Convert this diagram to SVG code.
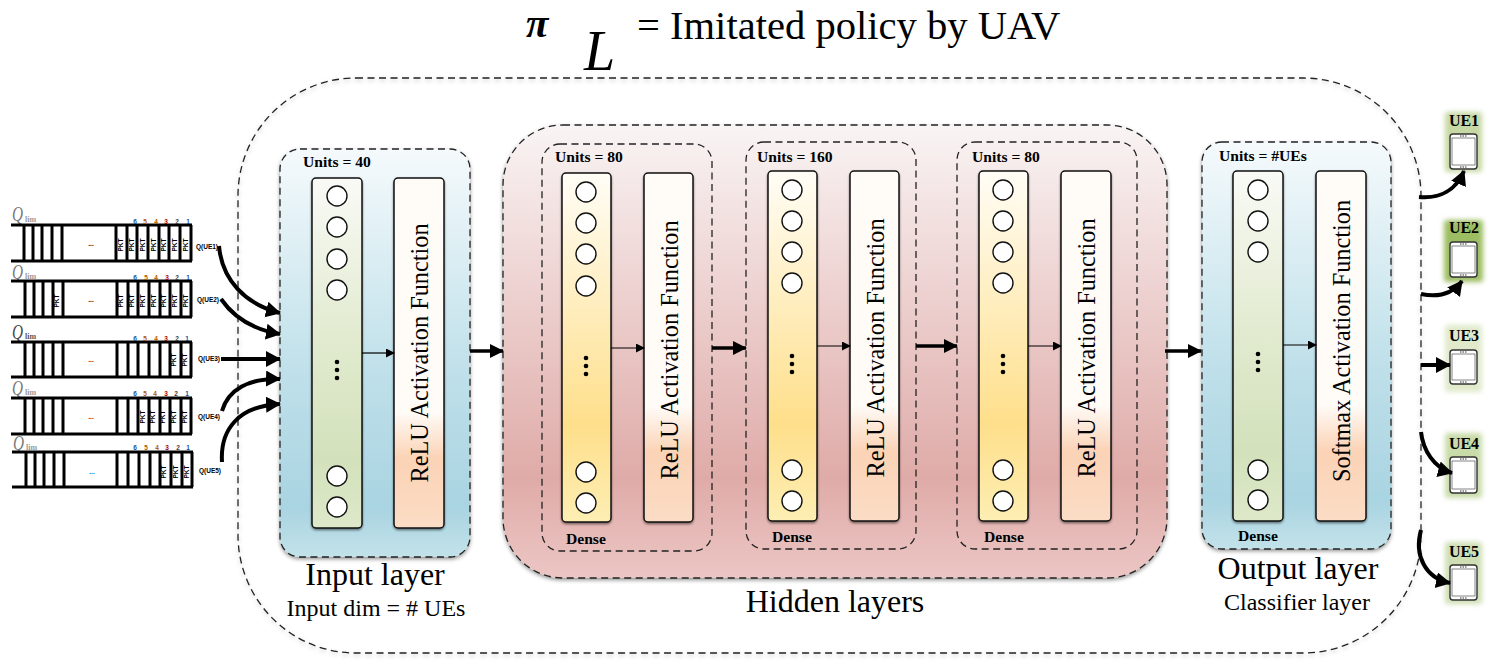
<svg xmlns="http://www.w3.org/2000/svg" width="1509" height="668" viewBox="0 0 1509 668">
<style>
text{font-family:"Liberation Serif","Times New Roman",serif;fill:#000}
.dash{stroke:#222;stroke-width:1.3;stroke-dasharray:7 4.5}
.panel{filter:url(#sh)}
.col,.act{stroke:#111;stroke-width:1.5;filter:url(#shs)}
.c{fill:#fff;stroke:#111;stroke-width:1.4}
.d{fill:#000}
.t{font-size:24.3px;text-anchor:middle}
.u{font-size:15.6px;font-weight:bold}
.big{font-size:32px;text-anchor:middle}
.sub{font-size:24px;text-anchor:middle}
.q{fill:none;stroke:#000;stroke-width:3}
.qs{font-family:"Liberation Sans",Arial,sans-serif;font-size:6.5px;font-weight:bold;text-anchor:middle}
.Q{font-size:21px;font-style:italic;fill:#777}
.lim{font-size:8px;font-weight:bold;fill:#999}
.thin{fill:none;stroke:#000;stroke-width:1.2}
.med{fill:none;stroke:#000;stroke-width:3.5}
.thick{fill:none;stroke:#000;stroke-width:4}
.ue{font-size:16px;font-weight:bold;text-anchor:middle}
.ph{fill:#fff;stroke:#333;stroke-width:1.4}
.sc{fill:#fff;stroke:#666;stroke-width:.8}
.sp{fill:none;stroke:#333;stroke-width:1}
</style>
<defs>
<linearGradient id="blue" x1="0" y1="0" x2="0" y2="1"><stop offset="0" stop-color="#f5fafc"/><stop offset=".55" stop-color="#bfe0ea"/><stop offset=".88" stop-color="#a9d4e1"/><stop offset="1" stop-color="#c3e2ea"/></linearGradient>
<linearGradient id="red" x1="0" y1="0" x2="0" y2="1"><stop offset="0" stop-color="#f9f4f4"/><stop offset=".78" stop-color="#dfaba8"/><stop offset="1" stop-color="#ecc6c4"/></linearGradient>
<linearGradient id="green" x1="0" y1="0" x2="0" y2="1"><stop offset="0" stop-color="#f9faf6"/><stop offset=".45" stop-color="#e2ebd0"/><stop offset=".8" stop-color="#d3e1bb"/><stop offset="1" stop-color="#dde8c9"/></linearGradient>
<linearGradient id="yellow" x1="0" y1="0" x2="0" y2="1"><stop offset="0" stop-color="#fffdf6"/><stop offset=".72" stop-color="#fedf8b"/><stop offset="1" stop-color="#fdeeb3"/></linearGradient>
<linearGradient id="peach" x1="0" y1="0" x2="0" y2="1"><stop offset="0" stop-color="#fffbf7"/><stop offset=".67" stop-color="#fffbf7"/><stop offset=".8" stop-color="#fbd3b6"/><stop offset="1" stop-color="#fbdcc5"/></linearGradient>
<filter id="sh" x="-5%" y="-5%" width="110%" height="110%"><feDropShadow dx="0" dy="2" stdDeviation="2" flood-color="#000" flood-opacity=".45"/></filter>
<filter id="shs" x="-20%" y="-5%" width="140%" height="110%"><feDropShadow dx="0" dy="1.5" stdDeviation="1.2" flood-color="#000" flood-opacity=".5"/></filter>
<filter id="shl" x="-2%" y="-2%" width="104%" height="104%"><feDropShadow dx="0" dy="2" stdDeviation="2" flood-color="#000" flood-opacity=".25"/></filter>
<filter id="glow" x="-30%" y="-30%" width="160%" height="160%"><feGaussianBlur stdDeviation="2.5"/></filter>
<marker id="ah" markerUnits="userSpaceOnUse" markerWidth="18" markerHeight="18" refX="14" refY="8" orient="auto"><path d="M0 0L15 8L0 16Z" fill="#000"/></marker>
<marker id="am" markerUnits="userSpaceOnUse" markerWidth="16" markerHeight="16" refX="13" refY="7" orient="auto"><path d="M0 0L14 7L0 14Z" fill="#000"/></marker>
<marker id="as" markerUnits="userSpaceOnUse" markerWidth="10" markerHeight="10" refX="8" refY="4.5" orient="auto"><path d="M0 0L9 4.5L0 9Z" fill="#000"/></marker>
</defs>
<rect width="1509" height="668" fill="#fff"/>

<g id="title">
<text x="526" y="37" font-size="41" font-style="italic" font-weight="bold">π</text>
<text x="584" y="70" font-size="56" font-style="italic">L</text>
<text x="637" y="39" font-size="40.6">= Imitated policy by UAV</text>
</g>

<g id="model-frame"><rect x="238" y="78" width="1183" height="575" rx="118" fill="none" class="dash" filter="url(#shl)"/></g>

<g id="input-layer">
<rect class="panel" x="280" y="149" width="190" height="408" rx="20" fill="url(#blue)"/>
<rect class="dash" x="280" y="149" width="190" height="408" rx="20" fill="none"/>
<text class="u" x="303" y="167">Units = 40</text>
<rect class="col" x="312" y="178" width="50" height="350" rx="4" fill="url(#green)"/>
<rect class="act" x="394" y="178" width="50" height="350" rx="4" fill="url(#peach)"/>
<circle class="c" cx="337" cy="196" r="10"/><circle class="c" cx="337" cy="227" r="10"/><circle class="c" cx="337" cy="259" r="10"/><circle class="c" cx="337" cy="290" r="10"/><circle class="c" cx="337" cy="476" r="10"/><circle class="c" cx="337" cy="507" r="10"/>
<circle class="d" cx="337" cy="362" r="2.3"/><circle class="d" cx="337" cy="370" r="2.3"/><circle class="d" cx="337" cy="378" r="2.3"/>
<text class="t" transform="translate(428 353) rotate(-90)">ReLU Activation Function</text>
<text class="big" x="375" y="585">Input layer</text>
<text class="sub" x="376" y="616">Input dim = # UEs</text>
</g>

<g id="hidden-layers">
<rect class="panel" x="503" y="125" width="664" height="453" rx="60" fill="url(#red)"/>
<rect class="dash" x="503" y="125" width="664" height="453" rx="60" fill="none"/>
<text class="big" x="835" y="612">Hidden layers</text>
</g>

<g id="hidden-1">
<rect class="dash" x="542" y="144" width="170" height="407" rx="18" fill="none"/>
<text class="u" x="555" y="162">Units = 80</text>
<rect class="col" x="562" y="173" width="49" height="349" rx="4" fill="url(#yellow)"/>
<rect class="act" x="644" y="173" width="49" height="349" rx="4" fill="url(#peach)"/>
<circle class="c" cx="586" cy="192" r="10"/><circle class="c" cx="586" cy="223" r="10"/><circle class="c" cx="586" cy="254" r="10"/><circle class="c" cx="586" cy="286" r="10"/><circle class="c" cx="586" cy="472" r="10"/><circle class="c" cx="586" cy="503" r="10"/>
<circle class="d" cx="586" cy="358" r="2.3"/><circle class="d" cx="586" cy="366" r="2.3"/><circle class="d" cx="586" cy="374" r="2.3"/>
<text class="t" transform="translate(678 350) rotate(-90)">ReLU Activation Function</text>
<text class="u" x="566" y="544">Dense</text>
</g>

<g id="hidden-2">
<rect class="dash" x="746" y="142" width="170" height="407" rx="18" fill="none"/>
<text class="u" x="757" y="162">Units = 160</text>
<rect class="col" x="768" y="171" width="49" height="350" rx="4" fill="url(#yellow)"/>
<rect class="act" x="850" y="171" width="49" height="350" rx="4" fill="url(#peach)"/>
<circle class="c" cx="792" cy="190" r="10"/><circle class="c" cx="792" cy="221" r="10"/><circle class="c" cx="792" cy="252" r="10"/><circle class="c" cx="792" cy="283" r="10"/><circle class="c" cx="792" cy="470" r="10"/><circle class="c" cx="792" cy="501" r="10"/>
<circle class="d" cx="792" cy="356" r="2.3"/><circle class="d" cx="792" cy="364" r="2.3"/><circle class="d" cx="792" cy="372" r="2.3"/>
<text class="t" transform="translate(884 348) rotate(-90)">ReLU Activation Function</text>
<text class="u" x="772" y="542">Dense</text>
</g>

<g id="hidden-3">
<rect class="dash" x="957" y="142" width="180" height="407" rx="18" fill="none"/>
<text class="u" x="972" y="162">Units = 80</text>
<rect class="col" x="979" y="171" width="49" height="350" rx="4" fill="url(#yellow)"/>
<rect class="act" x="1061" y="171" width="50" height="350" rx="4" fill="url(#peach)"/>
<circle class="c" cx="1003" cy="190" r="10"/><circle class="c" cx="1003" cy="221" r="10"/><circle class="c" cx="1003" cy="252" r="10"/><circle class="c" cx="1003" cy="283" r="10"/><circle class="c" cx="1003" cy="470" r="10"/><circle class="c" cx="1003" cy="501" r="10"/>
<circle class="d" cx="1003" cy="356" r="2.3"/><circle class="d" cx="1003" cy="364" r="2.3"/><circle class="d" cx="1003" cy="372" r="2.3"/>
<text class="t" transform="translate(1095 348) rotate(-90)">ReLU Activation Function</text>
<text class="u" x="984" y="542">Dense</text>
</g>

<g id="output-layer">
<rect class="panel" x="1202" y="142" width="189" height="407" rx="20" fill="url(#blue)"/>
<rect class="dash" x="1202" y="142" width="189" height="407" rx="20" fill="none"/>
<text class="u" x="1219" y="161">Units = #UEs</text>
<rect class="col" x="1233" y="171" width="50" height="350" rx="4" fill="url(#green)"/>
<rect class="act" x="1316" y="171" width="50" height="350" rx="4" fill="url(#peach)"/>
<circle class="c" cx="1258" cy="190" r="10"/><circle class="c" cx="1258" cy="221" r="10"/><circle class="c" cx="1258" cy="252" r="10"/><circle class="c" cx="1258" cy="470" r="10"/><circle class="c" cx="1258" cy="500" r="10"/>
<circle class="d" cx="1258" cy="354" r="2.3"/><circle class="d" cx="1258" cy="362" r="2.3"/><circle class="d" cx="1258" cy="370" r="2.3"/>
<text class="t" transform="translate(1350 341) rotate(-90)">Softmax Activation Function</text>
<text class="u" x="1238" y="541">Dense</text>
<text class="big" x="1298" y="579">Output layer</text>
<text class="sub" x="1297" y="610">Classifier layer</text>
</g>

<g id="queue-1">
<text class="Q" x="12" y="221" textLength="11" lengthAdjust="spacingAndGlyphs">Q</text><text class="lim" x="25" y="222">lim</text>
<path class="q" d="M11 225H192M11 261H192M191 225V261M24 225V261M33 225V261M42 225V261M52 225V261M62 225V261M116 225V261M127 225V261M137 225V261M148 225V261M159 225V261M169 225V261M180 225V261"/>
<text class="qs" x="135" y="224" style="fill:#14509a">6</text><text class="qs" x="145" y="224" style="fill:#b05a00">5</text><text class="qs" x="156" y="224" style="fill:#b05a00">4</text><text class="qs" x="166" y="224" style="fill:#a00">3</text><text class="qs" x="177" y="224" style="fill:#444">2</text><text class="qs" x="188" y="224" style="fill:#14509a">1</text>
<text class="qs" x="91" y="246">...</text>
<text class="qs" transform="translate(123 245) rotate(-90)">PKT</text><text class="qs" transform="translate(134 245) rotate(-90)">PKT</text><text class="qs" transform="translate(145 245) rotate(-90)">PKT</text><text class="qs" transform="translate(156 245) rotate(-90)">PKT</text><text class="qs" transform="translate(166 245) rotate(-90)">PKT</text><text class="qs" transform="translate(177 245) rotate(-90)">PKT</text><text class="qs" transform="translate(188 245) rotate(-90)">PKT</text>
<text class="qs" x="207" y="249">Q(UE1)</text>
</g>
<g id="queue-2">
<text class="Q" x="12" y="279" textLength="11" lengthAdjust="spacingAndGlyphs">Q</text><text class="lim" x="25" y="279">lim</text>
<path class="q" d="M11 281H192M11 317H192M191 281V317M25 281V317M34 281V317M43 281V317M53 281V317M63 281V317M117 281V317M128 281V317M138 281V317M149 281V317M160 281V317M170 281V317M181 281V317"/>
<text class="qs" x="135" y="280" style="fill:#14509a">6</text><text class="qs" x="146" y="280" style="fill:#b05a00">5</text><text class="qs" x="156" y="280" style="fill:#b05a00">4</text><text class="qs" x="167" y="280" style="fill:#a00">3</text><text class="qs" x="177" y="280" style="fill:#444">2</text><text class="qs" x="188" y="280" style="fill:#14509a">1</text>
<text class="qs" x="91" y="302">...</text>
<text class="qs" transform="translate(59 301) rotate(-90)">PKT</text>
<text class="qs" transform="translate(123 301) rotate(-90)">PKT</text><text class="qs" transform="translate(134 301) rotate(-90)">PKT</text><text class="qs" transform="translate(145 301) rotate(-90)">PKT</text><text class="qs" transform="translate(156 301) rotate(-90)">PKT</text><text class="qs" transform="translate(166 301) rotate(-90)">PKT</text><text class="qs" transform="translate(177 301) rotate(-90)">PKT</text><text class="qs" transform="translate(188 301) rotate(-90)">PKT</text>
<text class="qs" x="208" y="302">Q(UE2)</text>
</g>
<g id="queue-3">
<text class="Q" x="12" y="339" textLength="11" lengthAdjust="spacingAndGlyphs" style="fill:#444">Q</text><text class="lim" x="25" y="339" style="fill:#555">lim</text>
<path class="q" d="M11 342H192M11 377H192M191 342V377M25 342V377M34 342V377M43 342V377M53 342V377M63 342V377M117 342V377M128 342V377M138 342V377M149 342V377M160 342V377M170 342V377M181 342V377"/>
<text class="qs" x="135" y="341" style="fill:#14509a">6</text><text class="qs" x="145" y="341" style="fill:#b05a00">5</text><text class="qs" x="156" y="341" style="fill:#b05a00">4</text><text class="qs" x="166" y="341" style="fill:#a00">3</text><text class="qs" x="177" y="341" style="fill:#444">2</text><text class="qs" x="187" y="341" style="fill:#14509a">1</text>
<text class="qs" x="91" y="362" style="fill:#800">...</text>
<text class="qs" transform="translate(176 360) rotate(-90)">PKT</text><text class="qs" transform="translate(187 360) rotate(-90)">PKT</text>
<text class="qs" x="209" y="361">Q(UE3)</text>
</g>
<g id="queue-4">
<text class="Q" x="12" y="395" textLength="11" lengthAdjust="spacingAndGlyphs">Q</text><text class="lim" x="25" y="395">lim</text>
<path class="q" d="M11 398H192M11 434H192M191 398V434M25 398V434M34 398V434M43 398V434M53 398V434M63 398V434M117 398V434M128 398V434M138 398V434M149 398V434M160 398V434M170 398V434M181 398V434"/>
<text class="qs" x="135" y="396" style="fill:#14509a">6</text><text class="qs" x="145" y="396" style="fill:#b05a00">5</text><text class="qs" x="155" y="396" style="fill:#b05a00">4</text><text class="qs" x="166" y="396" style="fill:#a00">3</text><text class="qs" x="176" y="396" style="fill:#444">2</text><text class="qs" x="187" y="396" style="fill:#14509a">1</text>
<text class="qs" x="91" y="419" style="fill:#800">...</text>
<text class="qs" transform="translate(145 417) rotate(-90)">PKT</text><text class="qs" transform="translate(155 417) rotate(-90)">PKT</text><text class="qs" transform="translate(165 417) rotate(-90)">PKT</text><text class="qs" transform="translate(176 417) rotate(-90)">PKT</text><text class="qs" transform="translate(187 417) rotate(-90)">PKT</text>
<text class="qs" x="209" y="419">Q(UE4)</text>
</g>
<g id="queue-5">
<text class="Q" x="13" y="450" textLength="11" lengthAdjust="spacingAndGlyphs">Q</text><text class="lim" x="26" y="450">lim</text>
<path class="q" d="M12 452H193M12 487H193M192 452V487M26 452V487M35 452V487M44 452V487M54 452V487M64 452V487M117 452V487M128 452V487M139 452V487M150 452V487M160 452V487M171 452V487M182 452V487"/>
<text class="qs" x="135" y="450" style="fill:#14509a">6</text><text class="qs" x="146" y="450" style="fill:#b05a00">5</text><text class="qs" x="157" y="450" style="fill:#b05a00">4</text><text class="qs" x="167" y="450" style="fill:#a00">3</text><text class="qs" x="178" y="450" style="fill:#444">2</text><text class="qs" x="188" y="450" style="fill:#14509a">1</text>
<text class="qs" x="92" y="474" style="fill:#06c">...</text>
<text class="qs" transform="translate(166 472) rotate(-90)">PKT</text><text class="qs" transform="translate(178 472) rotate(-90)">PKT</text><text class="qs" transform="translate(189 472) rotate(-90)">PKT</text>
<text class="qs" x="210" y="473">Q(UE5)</text>
</g>

<g id="ue-1">
<rect x="1445" y="112" width="37" height="60" rx="3" fill="#c6d8a4" filter="url(#glow)"/>
<rect class="ph" x="1450" y="134" width="27" height="35" rx="3"/><rect class="sc" x="1452" y="138" width="23" height="27"/><path class="sp" d="M1460 136H1467M1460 167H1467" stroke-dasharray="1.5 1"/>
<text class="ue" x="1464" y="126">UE1</text>
</g>
<g id="ue-2">
<rect x="1444" y="220" width="39" height="62" rx="3" fill="#9cbd62" filter="url(#glow)"/>
<rect class="ph" x="1450" y="242" width="27" height="35" rx="3"/><rect class="sc" x="1452" y="246" width="23" height="27"/><path class="sp" d="M1460 244H1467M1460 275H1467" stroke-dasharray="1.5 1"/>
<text class="ue" x="1464" y="233">UE2</text>
</g>
<g id="ue-3">
<rect x="1445" y="325" width="37" height="67" rx="3" fill="#e0eacb" filter="url(#glow)"/>
<rect class="ph" x="1450" y="350" width="27" height="34" rx="3"/><rect class="sc" x="1452" y="354" width="23" height="26"/><path class="sp" d="M1460 352H1467M1460 382H1467" stroke-dasharray="1.5 1"/>
<text class="ue" x="1464" y="341">UE3</text>
</g>
<g id="ue-4">
<rect x="1445" y="433" width="37" height="65" rx="3" fill="#c9dba9" filter="url(#glow)"/>
<rect class="ph" x="1450" y="457" width="27" height="36" rx="3"/><rect class="sc" x="1452" y="461" width="23" height="28"/><path class="sp" d="M1460 459H1467M1460 491H1467" stroke-dasharray="1.5 1"/>
<text class="ue" x="1464" y="449">UE4</text>
</g>
<g id="ue-5">
<rect x="1445" y="542" width="37" height="62" rx="3" fill="#cfdfb3" filter="url(#glow)"/>
<rect class="ph" x="1450" y="565" width="27" height="35" rx="3"/><rect class="sc" x="1452" y="569" width="23" height="27"/><path class="sp" d="M1460 567H1467M1460 598H1467" stroke-dasharray="1.5 1"/>
<text class="ue" x="1464" y="557">UE5</text>
</g>

<g id="connectors">
<path class="thin" marker-end="url(#as)" d="M362 353H394"/>
<path class="thin" marker-end="url(#as)" d="M611 348H644"/>
<path class="thin" marker-end="url(#as)" d="M817 346H850"/>
<path class="thin" marker-end="url(#as)" d="M1028 346H1061"/>
<path class="thin" marker-end="url(#as)" d="M1283 345H1316"/>
<path class="med" marker-end="url(#am)" d="M470 351H503"/>
<path class="med" marker-end="url(#am)" d="M712 348H746"/>
<path class="med" marker-end="url(#am)" d="M916 346H957"/>
<path class="med" marker-end="url(#am)" d="M1165 351H1201"/>
<path class="thick" marker-end="url(#ah)" d="M219 246C222 280 245 304 280 313"/>
<path class="thick" marker-end="url(#ah)" d="M221 299C232 315 250 329 280 334"/>
<path class="thick" marker-end="url(#ah)" d="M221 359H280"/>
<path class="thick" marker-end="url(#ah)" d="M222 411C228 390 248 378 280 379"/>
<path class="thick" marker-end="url(#ah)" d="M222 462C220 430 238 406 280 404"/>
<path class="thick" marker-end="url(#ah)" d="M1419 197C1440 199 1456 190 1464 171"/>
<path class="thick" marker-end="url(#ah)" d="M1421 294C1440 298 1453 293 1462 281"/>
<path class="thick" marker-end="url(#ah)" d="M1421 365H1450"/>
<path class="thick" marker-end="url(#ah)" d="M1421 432C1423 450 1434 468 1452 473"/>
<path class="thick" marker-end="url(#ah)" d="M1421 530C1414 555 1425 578 1450 583"/>
</g>
</svg>
